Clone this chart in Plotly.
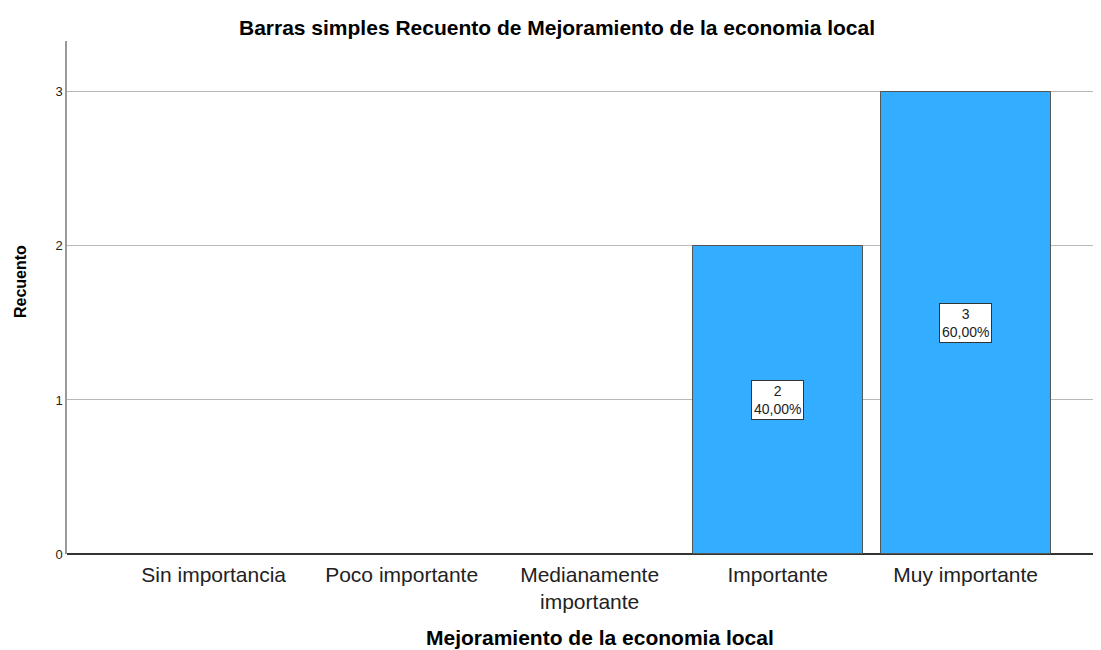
import plotly.graph_objects as go

categories = ["Sin importancia", "Poco importante", "Medianamente<br>importante", "Importante", "Muy importante"]
counts = [0, 0, 0, 2, 3]
percent_labels = ["0,00%", "0,00%", "0,00%", "40,00%", "60,00%"]
y_ticks = [0, 1, 2, 3]

FONT = "Liberation Sans, Arial, sans-serif"
xs = list(range(len(categories)))

# page body has an 8px margin; size the figure to fit the window
OFF = 8
W, H = 1101 - OFF, 650 - OFF
L, T, B = 67 - OFF, 41 - OFF, 96
pw, ph = W - L, H - T - B

fig = go.Figure()
fig.add_trace(go.Bar(
    x=xs, y=counts, width=0.905,
    marker=dict(color="#33adff",
                line=dict(color="#555555", width=[1 if c > 0 else 0 for c in counts])),
    hoverinfo="skip", showlegend=False,
))

for xi, c, p in zip(xs, counts, percent_labels):
    if c > 0:
        fig.add_annotation(
            x=xi, y=c / 2, xref="x", yref="y",
            text=f"{c}<br>{p}", showarrow=False,
            font=dict(family=FONT, size=14, color="#222222"),
            bgcolor="white", bordercolor="#333333", borderwidth=1, borderpad=2,
        )

fig.update_layout(
    width=W, height=H,
    margin=dict(l=L, r=0, t=T, b=B),
    paper_bgcolor="white", plot_bgcolor="white",
    font=dict(family=FONT, color="#222222"),
    title=dict(text="<b>Barras simples Recuento de Mejoramiento de la economia local</b>",
               x=(557 - OFF) / W, xanchor="center", y=1 - (28 - OFF) / H, yanchor="middle",
               font=dict(family=FONT, size=21, color="#000000")),
    bargap=0,
)

fig.add_annotation(
    x=(600 - 67) / pw, y=-(637 - 554) / ph, xref="paper", yref="paper",
    text="<b>Mejoramiento de la economia local</b>", showarrow=False,
    xanchor="center", yanchor="middle",
    font=dict(family=FONT, size=21, color="#000000"),
)
fig.add_annotation(
    x=(20 - 67) / pw, y=(554 - 282) / ph, xref="paper", yref="paper",
    text="<b>Recuento</b>", showarrow=False, textangle=-90,
    xanchor="center", yanchor="middle",
    font=dict(family=FONT, size=16, color="#000000"),
)

fig.update_xaxes(
    range=[-0.78, 4.72], tickmode="array", tickvals=xs, ticktext=categories,
    showgrid=False, zeroline=False, showline=False, ticks="", automargin=False,
    ticklabelstandoff=6,
    tickfont=dict(family=FONT, size=21, color="#222222"),
)
fig.update_yaxes(
    range=[0, 3.33], tickmode="array", tickvals=y_ticks,
    showgrid=True, gridcolor="#b8b8b8", gridwidth=1,
    zeroline=True, zerolinecolor="#333333", zerolinewidth=1.5,
    showline=True, linecolor="#999999", linewidth=1.5, ticks="", automargin=False,
    tickfont=dict(family=FONT, size=13, color="#222222"),
)

fig.write_html("out.html")
